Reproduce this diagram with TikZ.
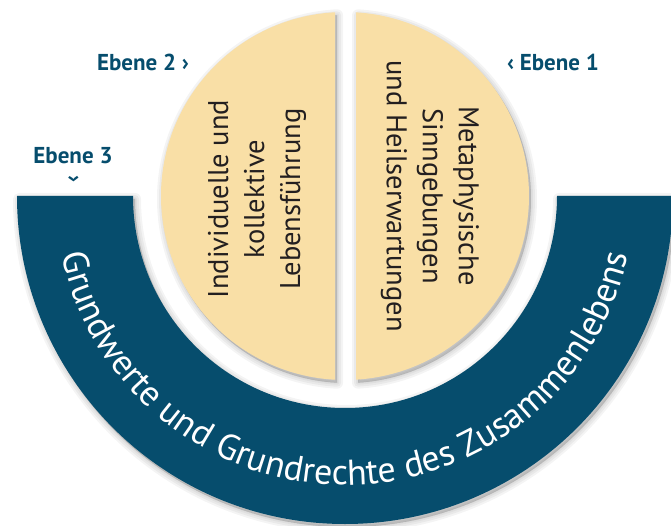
\documentclass[tikz,border=0pt]{standalone}
\usepackage{fontspec}
\setmainfont{PT Sans}
\usetikzlibrary{calc, positioning, decorations.text}

\definecolor{bandblue}{HTML}{064D6D}
\definecolor{sand}{HTML}{F9DFA6}
\definecolor{ink}{HTML}{231F20}

% shapes, in pt, centre of the rings at (345,-196)
\newcommand{\bandpath}{(345,-196) ++(180:328) arc[start angle=180, end angle=360, radius=328] -- ++(-116,0) arc[start angle=360, end angle=180, radius=212] -- cycle}
\newcommand{\lefthalf}{(345,-196) ++(93.1:184) arc[start angle=93.1, end angle=266.9, radius=184] -- cycle}
\newcommand{\righthalf}{(345,-196) ++(86.57:184) arc[start angle=86.57, end angle=-86.57, radius=184] -- cycle}
\newcommand{\bandfont}{\fontsize{36}{36}\selectfont}

\begin{document}
\begin{tikzpicture}[x=1pt, y=1pt,
    sandhalf/.style={fill=sand},
    bandring/.style={fill=bandblue},
    softshadow/.style={draw=black, fill=black, opacity=0.045, line join=round},
    level/.style={text=bandblue, font=\fontsize{23}{27}\selectfont\bfseries},
    fieldtext/.style={text=ink, align=center, font=\fontsize{28.5}{36}\selectfont}
]
\useasboundingbox (0,0) rectangle (671,-526);
\coordinate (C) at (345,-196);

% soft shadows
\begin{scope}[shift={(2,-3)}]
\foreach \w in {12,8,4,1} {
    \path[softshadow, line width=\w pt] \bandpath;
    \path[softshadow, line width=\w pt] \lefthalf;
    \path[softshadow, line width=\w pt] \righthalf;
}
\end{scope}

% rings
\path[bandring] \bandpath;
\path[sandhalf] \lefthalf;
\path[sandhalf] \righthalf;

% inner fields
\node[fieldtext, rotate=90] (life) at (257,-199) {Individuelle und\\kollektive\\Lebensführung};
\node[fieldtext, rotate=-90] (meta) at (430,-196) {Metaphysische\\Sinngebungen\\und Heilserwartungen};

% outer ring text
\path[decorate, decoration={text along path, text align=center, text color=white,
    text={|\bandfont|Grundwerte und Grundrechte des Zusammenlebens}}]
    ($(C)+(180:289)$) arc[start angle=180, end angle=360, radius=289];

% level labels
\node[level] (lvl2) at (143,-62) {Ebene 2 ›};
\node[level] (lvl1) at (553,-62) {‹ Ebene 1};
\node[level] (lvl3) at (73,-156) {Ebene 3};
\node[level, rotate=-90] (lvl3mark) at (73,-179) {›};

\end{tikzpicture}
\end{document}
